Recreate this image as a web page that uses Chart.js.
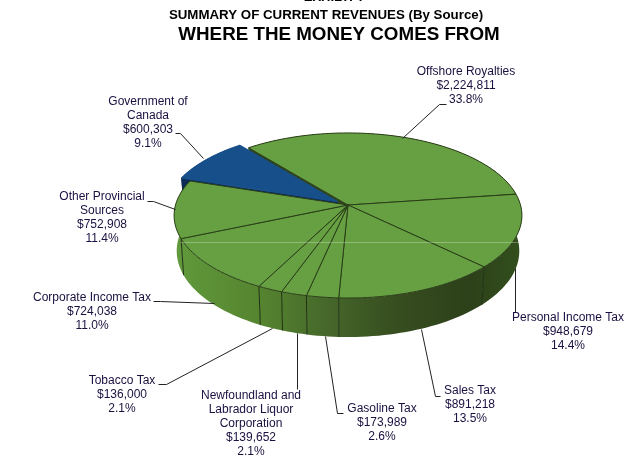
<!DOCTYPE html>
<html>
<head>
<meta charset="utf-8">
<style>
  html, body { margin: 0; padding: 0; background: #fff; }
  #wrap { width: 644px; height: 471px; overflow: hidden; }
</style>
</head>
<body>
<div id="wrap"><canvas id="myChart" width="644" height="471"></canvas></div>
<script src="https://cdn.jsdelivr.net/npm/chart.js@4"></script>
<script>
const categories = [
  ["Offshore Royalties"],
  ["Personal Income Tax"],
  ["Sales Tax"],
  ["Gasoline Tax"],
  ["Newfoundland and", "Labrador Liquor", "Corporation"],
  ["Tobacco Tax"],
  ["Corporate Income Tax"],
  ["Other Provincial", "Sources"],
  ["Government of", "Canada"]
];
const revenues = [2224811, 948679, 891218, 173989, 139652, 136000, 724038, 752908, 600303];
const percents = ["33.8%", "14.4%", "13.5%", "2.6%", "2.1%", "2.1%", "11.0%", "11.4%", "9.1%"];
const sliceColors = ["#66a042", "#66a042", "#66a042", "#66a042", "#66a042", "#66a042", "#66a042", "#66a042", "#174f8b"];
const sliceOffsets = [0, 0, 0, 0, 0, 0, 0, 0, 12];

// label centre x, first line centre y, line height
const labelSpots = [
  [466, 72, 14], [568, 318, 14], [470, 391, 13.7], [382, 409, 14], [251, 396, 13.8],
  [122, 381, 13.7], [92, 298, 13.7], [102, 197, 13.8], [148, 102, 13.8]
];
const leaders = [
  [[446, 104], [439, 104], [402, 138]],
  [[515, 312], [515, 268]],
  [[440, 396], [435, 396], [421, 329]],
  [[343, 413], [337, 413], [325, 336]],
  [[297, 389], [297, 333]],
  [[158, 384], [166, 384], [272, 328]],
  [[153, 301], [160, 301], [214, 303]],
  [[147, 201], [153, 201], [175, 209]],
  [[175, 133], [180, 133], [203, 158]]
];

// fake 3d: centre of the pie, radii, perspective and wall height
const cx = 348, cy = 205, rx = 172.5, ry = 81.2, persp = 0.127;
const explode = 0.07;

function project(X, Y, z) {
  const f = 1 / (1 - persp * Y);
  const shrink = 1 - 0.015 * z;
  return [cx + rx * X * f * shrink, cy + ry * Y * f + z * (35 + 4 * Y)];
}

function ringPoints(arc, z) {
  const pts = [];
  const steps = Math.max(2, Math.ceil((arc.endAngle - arc.startAngle) / 0.03));
  const shift = arc.options.offset ? explode : 0;
  const mid = (arc.startAngle + arc.endAngle) / 2;
  const dx = Math.cos(mid) * shift, dy = Math.sin(mid) * shift;
  for (let i = 0; i <= steps; i++) {
    const a = arc.startAngle + (arc.endAngle - arc.startAngle) * i / steps;
    pts.push(project(Math.cos(a) + dx, Math.sin(a) + dy, z));
  }
  return { pts, apex: project(dx, dy, z) };
}

function tracePoly(ctx, pts) {
  ctx.beginPath();
  pts.forEach((p, i) => i ? ctx.lineTo(p[0], p[1]) : ctx.moveTo(p[0], p[1]));
  ctx.closePath();
}

class TiltedArc extends Chart.ArcElement {
  static id = "tiltedArc";
  draw(ctx) {
    const ring = ringPoints(this, 0);
    tracePoly(ctx, [ring.apex].concat(ring.pts));
    ctx.fillStyle = this.options.backgroundColor;
    ctx.fill();
    ctx.strokeStyle = this.options.borderColor;
    ctx.lineWidth = this.options.borderWidth;
    ctx.stroke();
  }
}

class TiltedPie extends Chart.PieController {
  static id = "tiltedPie";
  static defaults = { dataElementType: "tiltedArc" };
}
Chart.register(TiltedArc, TiltedPie);

function drawWalls(chart) {
  const ctx = chart.ctx;
  const arcs = chart.getDatasetMeta(0).data;
  const wallGrad = ctx.createLinearGradient(174, 0, 522, 0);
  wallGrad.addColorStop(0, "#619a3c");
  wallGrad.addColorStop(0.25, "#55842f");
  wallGrad.addColorStop(0.45, "#45662a");
  wallGrad.addColorStop(0.62, "#384f20");
  wallGrad.addColorStop(0.85, "#2c4019");
  wallGrad.addColorStop(1, "#33501d");
  ctx.save();
  arcs.forEach((arc, i) => {
    const top = ringPoints(arc, 0), bottom = ringPoints(arc, 1);
    const outer = top.pts.concat(bottom.pts.slice().reverse());
    if (arc.options.offset) {
      // exploded slice: navy wall plus the cut faces
      ctx.fillStyle = "#0c2c56";
      tracePoly(ctx, [top.apex, top.pts[0], bottom.pts[0], bottom.apex]);
      ctx.fill();
      tracePoly(ctx, outer);
      ctx.fill();
      return;
    }
    tracePoly(ctx, outer);
    ctx.fillStyle = wallGrad;
    ctx.fill();
    if (i === 0) {
      // cut face showing in the gap next to the exploded slice
      tracePoly(ctx, [top.apex, top.pts[0], bottom.pts[0], bottom.apex]);
      ctx.fillStyle = "#2f4419";
      ctx.fill();
    }
  });
  // seam lines on the near side of the wall
  ctx.strokeStyle = "#1f2e12";
  ctx.lineWidth = 1;
  arcs.forEach(arc => {
    if (Math.sin(arc.endAngle) <= 0 || arc.options.offset) return;
    const a = project(Math.cos(arc.endAngle), Math.sin(arc.endAngle), 0);
    const b = project(Math.cos(arc.endAngle), Math.sin(arc.endAngle), 1);
    ctx.beginPath();
    ctx.moveTo(a[0], a[1]);
    ctx.lineTo(b[0], b[1]);
    ctx.stroke();
  });
  ctx.restore();
}

function drawText(chart) {
  const ctx = chart.ctx;
  ctx.save();
  // faint scan line across the pie, it is in the source image
  ctx.strokeStyle = "rgba(255,255,255,0.28)";
  ctx.beginPath();
  ctx.moveTo(181, 242.5);
  ctx.lineTo(520, 242.5);
  ctx.stroke();

  ctx.strokeStyle = "#222";
  ctx.lineWidth = 1;
  leaders.forEach(pts => {
    ctx.beginPath();
    pts.forEach((p, i) => i ? ctx.lineTo(p[0] + 0.5, p[1] + 0.5) : ctx.moveTo(p[0] + 0.5, p[1] + 0.5));
    ctx.stroke();
  });

  ctx.textAlign = "center";
  ctx.textBaseline = "middle";
  ctx.fillStyle = "#1b1040";
  ctx.font = '12px "Liberation Sans"';
  categories.forEach((name, i) => {
    const spot = labelSpots[i];
    const lines = name.concat("$" + revenues[i].toLocaleString("en-US"), percents[i]);
    lines.forEach((line, n) => ctx.fillText(line, spot[0], spot[1] + n * spot[2]));
  });

  ctx.fillStyle = "#000";
  ctx.font = 'bold 13px "Liberation Sans"';
  ctx.fillText("EXHIBIT I", 333, -3);
  ctx.font = 'bold 13.3px "Liberation Sans"';
  ctx.fillText("SUMMARY OF CURRENT REVENUES (By Source)", 326, 15);
  ctx.font = 'bold 18.8px "Liberation Sans"';
  ctx.fillText("WHERE THE MONEY COMES FROM", 339, 35);
  ctx.restore();
}

const pie3d = {
  id: "pie3d",
  beforeDatasetsDraw: drawWalls,
  afterDatasetsDraw: drawText
};

new Chart(document.getElementById("myChart"), {
  type: "tiltedPie",
  data: {
    labels: categories.map(c => c.join(" ")),
    datasets: [{
      data: revenues,
      backgroundColor: sliceColors,
      borderColor: ["#2a3d18", "#2a3d18", "#2a3d18", "#2a3d18", "#2a3d18", "#2a3d18", "#2a3d18", "#2a3d18", "#174f8b"],
      borderWidth: 1,
      offset: sliceOffsets,
      clip: false
    }]
  },
  options: {
    responsive: false,
    animation: false,
    rotation: -39.3,
    layout: { padding: 0 },
    plugins: { legend: { display: false }, tooltip: { enabled: false } }
  },
  plugins: [pie3d]
});
</script>
</body>
</html>
